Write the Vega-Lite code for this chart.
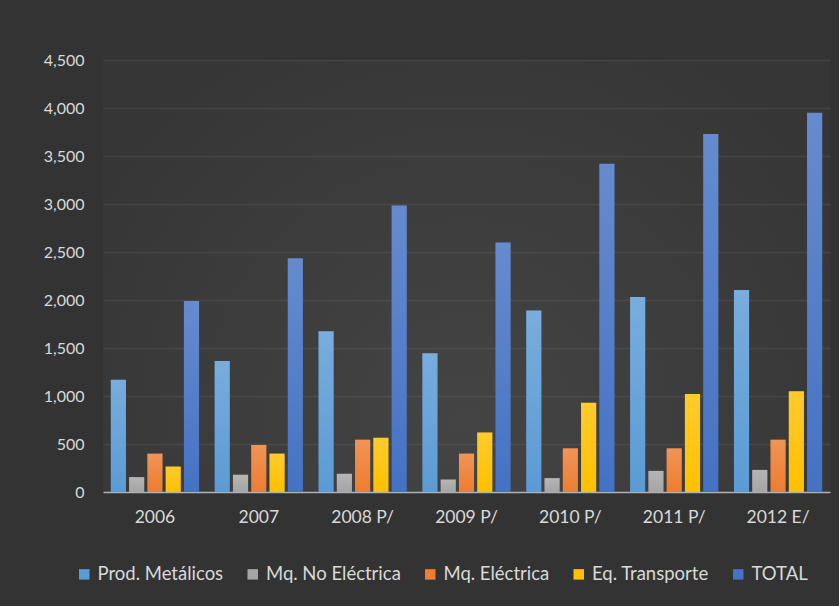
{
  "$schema": "https://vega.github.io/schema/vega-lite/v6.json",
  "width": 727,
  "height": 432,
  "autosize": {"type": "none"},
  "padding": {"left": 103, "top": 60, "right": 9, "bottom": 114},
  "background": "#333333",
  "config": {
    "view": {"stroke": null, "fill": {"gradient": "radial", "x1": 0.5, "y1": 0.7, "r1": 0, "x2": 0.5, "y2": 0.7, "r2": 0.6, "stops": [{"offset": 0, "color": "#444444"}, {"offset": 1, "color": "#363636"}]}},
    "font": "Lato",
    "axis": {"labelColor": "#d9d9d9", "labelFont": "Lato", "labelFontSize": 16, "titleColor": "#d9d9d9"},
    "legend": {"labelColor": "#d9d9d9", "labelFont": "Lato", "labelFontSize": 18.5}
  },
  "data": {"values": [
    {"year": "2006", "serie": "Prod. Metálicos", "valor": 1170},
    {"year": "2006", "serie": "Mq. No Eléctrica", "valor": 155},
    {"year": "2006", "serie": "Mq. Eléctrica", "valor": 400},
    {"year": "2006", "serie": "Eq. Transporte", "valor": 265},
    {"year": "2006", "serie": "TOTAL", "valor": 1990},
    {"year": "2007", "serie": "Prod. Metálicos", "valor": 1365},
    {"year": "2007", "serie": "Mq. No Eléctrica", "valor": 180},
    {"year": "2007", "serie": "Mq. Eléctrica", "valor": 490},
    {"year": "2007", "serie": "Eq. Transporte", "valor": 400},
    {"year": "2007", "serie": "TOTAL", "valor": 2435},
    {"year": "2008 P/", "serie": "Prod. Metálicos", "valor": 1675},
    {"year": "2008 P/", "serie": "Mq. No Eléctrica", "valor": 190},
    {"year": "2008 P/", "serie": "Mq. Eléctrica", "valor": 545},
    {"year": "2008 P/", "serie": "Eq. Transporte", "valor": 565},
    {"year": "2008 P/", "serie": "TOTAL", "valor": 2985},
    {"year": "2009 P/", "serie": "Prod. Metálicos", "valor": 1445},
    {"year": "2009 P/", "serie": "Mq. No Eléctrica", "valor": 130},
    {"year": "2009 P/", "serie": "Mq. Eléctrica", "valor": 400},
    {"year": "2009 P/", "serie": "Eq. Transporte", "valor": 620},
    {"year": "2009 P/", "serie": "TOTAL", "valor": 2600},
    {"year": "2010 P/", "serie": "Prod. Metálicos", "valor": 1890},
    {"year": "2010 P/", "serie": "Mq. No Eléctrica", "valor": 145},
    {"year": "2010 P/", "serie": "Mq. Eléctrica", "valor": 455},
    {"year": "2010 P/", "serie": "Eq. Transporte", "valor": 930},
    {"year": "2010 P/", "serie": "TOTAL", "valor": 3420},
    {"year": "2011 P/", "serie": "Prod. Metálicos", "valor": 2030},
    {"year": "2011 P/", "serie": "Mq. No Eléctrica", "valor": 220},
    {"year": "2011 P/", "serie": "Mq. Eléctrica", "valor": 455},
    {"year": "2011 P/", "serie": "Eq. Transporte", "valor": 1020},
    {"year": "2011 P/", "serie": "TOTAL", "valor": 3730},
    {"year": "2012 E/", "serie": "Prod. Metálicos", "valor": 2105},
    {"year": "2012 E/", "serie": "Mq. No Eléctrica", "valor": 230},
    {"year": "2012 E/", "serie": "Mq. Eléctrica", "valor": 545},
    {"year": "2012 E/", "serie": "Eq. Transporte", "valor": 1050},
    {"year": "2012 E/", "serie": "TOTAL", "valor": 3950}
  ]},
  "encoding": {
    "x": {"field": "year", "type": "nominal", "sort": null,
      "scale": {"paddingInner": 0.15, "paddingOuter": 0.075},
      "axis": {"title": null, "labelAngle": 0, "ticks": false, "labelPadding": 16, "labelFontSize": 17.5, "domainColor": "#b0b0b0", "domainWidth": 1.5, "grid": false}},
    "xOffset": {"field": "serie", "type": "nominal",
      "sort": ["Prod. Metálicos", "Mq. No Eléctrica", "Mq. Eléctrica", "Eq. Transporte", "TOTAL"],
      "scale": {"paddingInner": 0.17, "paddingOuter": 0}},
    "y": {"field": "valor", "type": "quantitative",
      "scale": {"domain": [0, 4500], "nice": false},
      "axis": {"title": null, "values": [0, 500, 1000, 1500, 2000, 2500, 3000, 3500, 4000, 4500], "format": ",.0f", "ticks": false, "domain": false, "labelPadding": 19, "gridColor": "#ffffff", "gridOpacity": 0.07, "gridWidth": 1.5}}
  },
  "layer": [
    {
      "mark": {"type": "bar"},
      "encoding": {
        "color": {"field": "serie", "type": "nominal",
          "scale": {"domain": ["Prod. Metálicos", "Mq. No Eléctrica", "Mq. Eléctrica", "Eq. Transporte", "TOTAL"],
                    "range": ["#5b9bd5", "#a5a5a5", "#ed7d31", "#ffc000", "#4472c4"]},
          "legend": {"title": null, "orient": "none", "legendX": -28, "legendY": 505, "direction": "horizontal", "symbolType": "square", "symbolSize": 110, "symbolStrokeWidth": 0, "columnPadding": 19.5, "labelOffset": 4}}
      }
    },
    {
      "mark": {"type": "bar", "color": {"gradient": "linear", "x1": 0, "y1": 0, "x2": 0, "y2": 1, "stops": [{"offset": 0, "color": "rgba(255,255,255,0.18)"}, {"offset": 1, "color": "rgba(255,255,255,0)"}]}},
      "encoding": {}
    }
  ]
}
